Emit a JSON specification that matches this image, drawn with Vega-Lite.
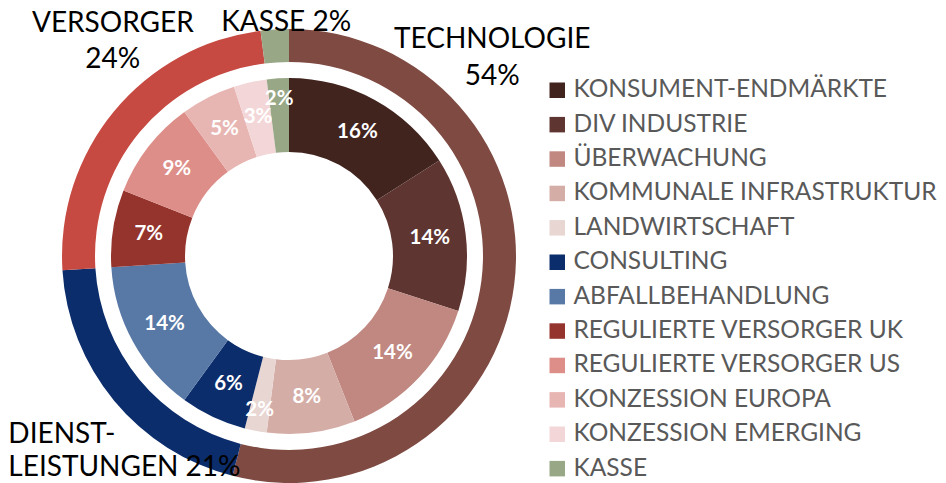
{
  "$schema": "https://vega.github.io/schema/vega-lite/v6.json",
  "autosize": {"type": "none"},
  "width": 578,
  "height": 454,
  "padding": {"left": 0, "top": 29, "right": 368, "bottom": 0},
  "background": "white",
  "config": {
    "view": {"stroke": null},
    "font": "Lato",
    "legend": {
      "orient": "none",
      "legendX": 545,
      "legendY": 49,
      "padding": 0,
      "title": null,
      "symbolType": "square",
      "symbolSize": 240,
      "symbolStrokeWidth": 0,
      "labelFontSize": 24.5,
      "labelColor": "#595959",
      "labelFont": "Lato",
      "labelOffset": 4,
      "rowPadding": 9.4,
      "labelLimit": 500
    }
  },
  "datasets": {
    "inner": [
      {"name": "KONSUMENT-ENDMÄRKTE", "pct": 0.16, "idx": 1},
      {"name": "DIV INDUSTRIE", "pct": 0.14, "idx": 2},
      {"name": "ÜBERWACHUNG", "pct": 0.14, "idx": 3},
      {"name": "KOMMUNALE INFRASTRUKTUR", "pct": 0.08, "idx": 4},
      {"name": "LANDWIRTSCHAFT", "pct": 0.02, "idx": 5},
      {"name": "CONSULTING", "pct": 0.06, "idx": 6},
      {"name": "ABFALLBEHANDLUNG", "pct": 0.14, "idx": 7},
      {"name": "REGULIERTE VERSORGER UK", "pct": 0.07, "idx": 8},
      {"name": "REGULIERTE VERSORGER US", "pct": 0.09, "idx": 9},
      {"name": "KONZESSION EUROPA", "pct": 0.05, "idx": 10},
      {"name": "KONZESSION EMERGING", "pct": 0.03, "idx": 11},
      {"name": "KASSE", "pct": 0.02, "idx": 12}
    ],
    "outer": [
      {"group": "Technologie", "pct": 0.54, "idx": 1, "label": "TECHNOLOGIE\n54%"},
      {"group": "Dienstleistungen", "pct": 0.20, "idx": 2, "label": "DIENST-\nLEISTUNGEN 21%"},
      {"group": "Versorger", "pct": 0.24, "idx": 3, "label": "VERSORGER\n24%"},
      {"group": "Kasse", "pct": 0.02, "idx": 4, "label": "KASSE 2%"}
    ]
  },
  "encoding": {
    "theta": {"field": "pct", "type": "quantitative", "stack": true, "scale": {"domain": [0, 1]}},
    "order": {"field": "idx", "type": "quantitative"}
  },
  "layer": [
    {
      "data": {"name": "outer"},
      "mark": {"type": "arc", "radius": 227, "radius2": 194},
      "encoding": {
        "fill": {
          "field": "group", "type": "nominal", "legend": null,
          "scale": {
            "domain": ["Technologie", "Dienstleistungen", "Versorger", "Kasse"],
            "range": ["#7E4A42", "#0C2D6B", "#C64A42", "#98A886"]
          }
        }
      }
    },
    {
      "data": {"name": "inner"},
      "mark": {"type": "arc", "radius": 178, "radius2": 104},
      "encoding": {
        "color": {
          "field": "name", "type": "nominal", "sort": null,
          "scale": {
            "domain": ["KONSUMENT-ENDMÄRKTE", "DIV INDUSTRIE", "ÜBERWACHUNG", "KOMMUNALE INFRASTRUKTUR", "LANDWIRTSCHAFT", "CONSULTING", "ABFALLBEHANDLUNG", "REGULIERTE VERSORGER UK", "REGULIERTE VERSORGER US", "KONZESSION EUROPA", "KONZESSION EMERGING", "KASSE"],
            "range": ["#42241F", "#5E3530", "#C08880", "#D5ADA7", "#E8D6D3", "#0C2D6B", "#5878A6", "#95332D", "#DE8E88", "#E8B6B2", "#F3D7D8", "#98A886"]
          }
        }
      }
    },
    {
      "data": {"name": "inner"},
      "mark": {"type": "text", "radius": 142, "fill": "white", "fontSize": 20.5, "font": "Lato", "fontWeight": "bold", "align": "center", "baseline": "middle"},
      "encoding": {
        "text": {"condition": {"test": "datum.name !== 'KASSE' && datum.name !== 'LANDWIRTSCHAFT'", "field": "pct", "type": "quantitative", "format": ".0%"}, "value": ""}
      }
    },
    {
      "data": {"name": "inner"},
      "mark": {"type": "text", "radius": 157, "fill": "white", "fontSize": 20.5, "font": "Lato", "fontWeight": "bold", "align": "center", "baseline": "middle"},
      "encoding": {
        "text": {"condition": {"test": "datum.name === 'KASSE' || datum.name === 'LANDWIRTSCHAFT'", "field": "pct", "type": "quantitative", "format": ".0%"}, "value": ""}
      }
    },
    {
      "data": {"name": "outer"},
      "mark": {"type": "text", "radius": 230, "dx": -25, "dy": -245, "fill": "black", "fontSize": 28, "lineHeight": 37, "align": "center", "baseline": "middle", "lineBreak": "\n"},
      "encoding": {
        "text": {"condition": {"test": "datum.group === 'Technologie'", "field": "label"}, "value": ""}
      }
    },
    {
      "data": {"name": "outer"},
      "mark": {"type": "text", "radius": 265, "dx": 28, "dy": -63, "fill": "black", "fontSize": 28, "lineHeight": 36, "align": "center", "baseline": "middle", "lineBreak": "\n"},
      "encoding": {
        "text": {"condition": {"test": "datum.group === 'Versorger'", "field": "label"}, "value": ""}
      }
    },
    {
      "data": {"name": "outer"},
      "mark": {"type": "text", "radius": 236, "dx": 12, "dy": 3, "fill": "black", "fontSize": 28, "lineHeight": 36, "align": "center", "baseline": "middle", "lineBreak": "\n"},
      "encoding": {
        "text": {"condition": {"test": "datum.group === 'Kasse'", "field": "label"}, "value": ""}
      }
    },
    {
      "data": {"name": "outer"},
      "mark": {"type": "text", "radius": 250, "dx": -88, "dy": 20, "fill": "black", "fontSize": 28, "lineHeight": 33, "align": "left", "baseline": "middle", "lineBreak": "\n"},
      "encoding": {
        "text": {"condition": {"test": "datum.group === 'Dienstleistungen'", "field": "label"}, "value": ""}
      }
    }
  ]
}
